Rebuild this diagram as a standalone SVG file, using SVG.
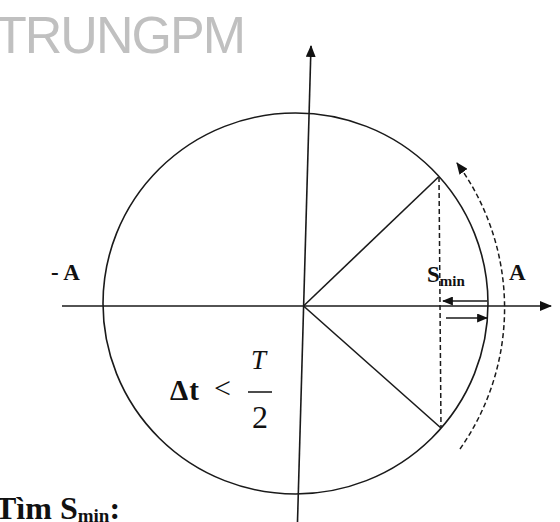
<svg xmlns="http://www.w3.org/2000/svg" width="560" height="522" viewBox="0 0 560 522">
  <defs>
    <marker id="ah" viewBox="0 0 12 10" refX="11" refY="5" markerWidth="12" markerHeight="10" markerUnits="userSpaceOnUse" orient="auto">
      <path d="M0,0 L12,5 L0,10 z" fill="#111"/>
    </marker>
    <marker id="ahs" viewBox="0 0 12 10" refX="11" refY="5" markerWidth="11" markerHeight="9" markerUnits="userSpaceOnUse" orient="auto">
      <path d="M0,0 L12,5 L0,10 z" fill="#111"/>
    </marker>
  </defs>
  <style>
    .ln { stroke: #1a1a1a; stroke-width: 1.6; fill: none; }
    .dash { stroke: #1a1a1a; stroke-width: 1.5; fill: none; stroke-dasharray: 5 3; }
    .lbl { font-family: "Liberation Serif", "Times New Roman", serif; font-weight: bold; fill: #111; }
    .wm { font-family: "Liberation Sans", Arial, sans-serif; fill: #c0c0c0; }
  </style>
  <rect width="560" height="522" fill="#ffffff"/>

  <text class="wm" x="-5" y="53" font-size="52" textLength="251" lengthAdjust="spacing">TRUNGPM</text>

  <g id="circle">
    <ellipse class="ln" cx="295.5" cy="303.5" rx="192.5" ry="190.5"/>
  </g>

  <g id="connectors">
    <line id="axis-x" class="ln" x1="62" y1="306" x2="551" y2="306" marker-end="url(#ah)"/>
    <line id="axis-y" class="ln" x1="297.5" y1="522" x2="311" y2="46" marker-end="url(#ah)"/>
    <line id="ray-up" class="ln" x1="303.5" y1="306" x2="438.5" y2="177"/>
    <line id="ray-down" class="ln" x1="303.5" y1="306" x2="441" y2="428"/>
    <line id="proj" class="dash" x1="439" y1="177" x2="441" y2="428"/>
    <path id="arc" class="dash" d="M 460 449 A 245 245 0 0 0 457 163" marker-end="url(#ah)"/>
    <line id="smin-left" class="ln" stroke-width="2" x1="487" y1="301" x2="443" y2="301" marker-end="url(#ahs)"/>
    <line id="smin-right" class="ln" stroke-width="2" x1="446" y1="318" x2="487" y2="318" marker-end="url(#ahs)"/>
  </g>

  <g id="labels">
    <text class="lbl" x="51" y="280" font-size="23">- A</text>
    <text class="lbl" x="509" y="280" font-size="23">A</text>
    <text class="lbl" x="427" y="282" font-size="23">S<tspan font-size="15" dy="4">min</tspan></text>
  </g>

  <g id="condition">
    <text class="lbl" x="170" y="400" font-size="29" letter-spacing="1">Δt</text>
    <text font-family="Liberation Serif, serif" x="214" y="398" font-size="30" fill="#111">&lt;</text>
    <text font-family="Liberation Serif, serif" font-style="italic" x="251" y="369" font-size="27" fill="#111">T</text>
    <line x1="248" y1="392" x2="272" y2="392" stroke="#111" stroke-width="1.5"/>
    <text font-family="Liberation Serif, serif" x="252" y="428" font-size="32" fill="#111">2</text>
  </g>

  <g id="caption">
    <text class="lbl" x="-5" y="519" font-size="32">Tìm S<tspan font-size="19" dy="3">min</tspan><tspan dy="-3">:</tspan></text>
  </g>
</svg>
